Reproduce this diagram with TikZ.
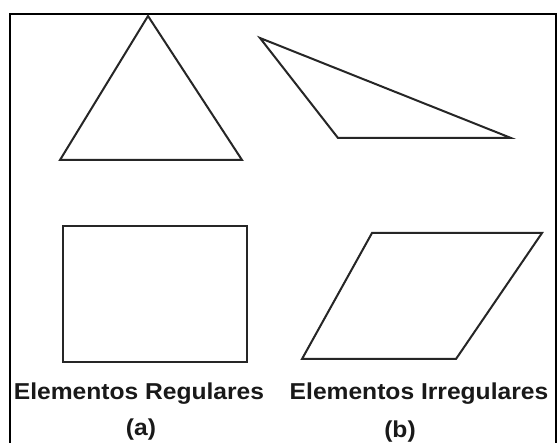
\documentclass[tikz,border=0pt]{standalone}
\usepackage{fontspec}
\setmainfont{Liberation Sans}
\begin{document}
\begin{tikzpicture}[x=1pt,y=-1pt,
  figline/.style={draw=black!85,line width=2pt,line join=miter},
  lbl/.style={inner sep=0pt,anchor=base,font=\fontsize{23}{25}\selectfont\bfseries,text=black!90,xscale=1.07}]
\useasboundingbox (0,0) rectangle (558,443);
\fill[white] (0,0) rectangle (558,443);
\draw[black,line width=2.5pt] (10,450) -- (10,14) -- (556,14) -- (556,450);
% triangles
\coordinate (t1a) at (148,16);
\coordinate (t1b) at (60,160);
\coordinate (t1c) at (242,160);
\draw[figline] (t1a) -- (t1b) -- (t1c) -- cycle;
\coordinate (t2a) at (260,38);
\coordinate (t2b) at (338,138);
\coordinate (t2c) at (511,138);
\draw[figline] (t2a) -- (t2b) -- (t2c) -- cycle;
% rectangle and parallelogram
\coordinate (r1) at (63,226);
\coordinate (r2) at (247,362);
\draw[figline] (r1) rectangle (r2);
\coordinate (p1) at (372,233);
\coordinate (p2) at (542,233);
\coordinate (p3) at (456,359);
\coordinate (p4) at (302,359);
\draw[figline] (p1) -- (p2) -- (p3) -- (p4) -- cycle;
% labels
\node[lbl] (l1) at (139,400) {Elementos Regulares};
\node[lbl] (l2) at (419,400) {Elementos Irregulares};
\node[lbl] (a) at (141,436) {(a)};
\node[lbl] (b) at (400,438) {(b)};
\end{tikzpicture}
\end{document}
